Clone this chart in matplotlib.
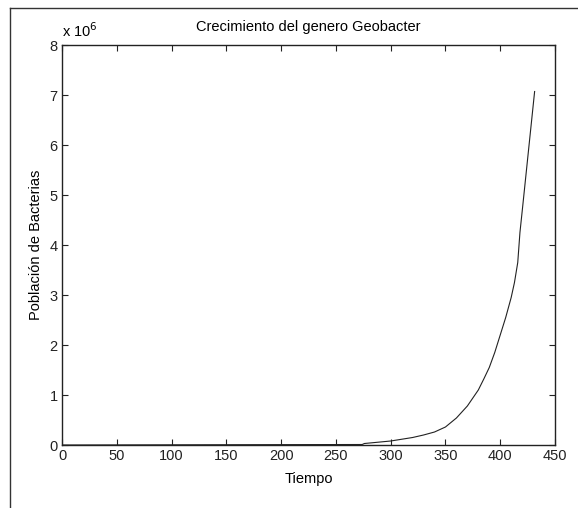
import matplotlib.pyplot as plt
from matplotlib.lines import Line2D
from matplotlib.ticker import FuncFormatter

plt.rcParams['font.family'] = ['Liberation Sans', 'DejaVu Sans']

# Datos
tiempo = [0, 130, 274, 276, 300, 320, 330, 340, 350, 360, 370, 380, 385, 390,
          395, 400, 405, 410, 413, 416, 418, 420.5, 425, 431.4]
poblacion = [0, 0.005e6, 0.01e6, 0.03e6, 0.08e6, 0.15e6, 0.2e6, 0.26e6,
             0.36e6, 0.54e6, 0.78e6, 1.1e6, 1.32e6, 1.55e6, 1.85e6, 2.2e6,
             2.55e6, 2.95e6, 3.25e6, 3.65e6, 4.25e6, 4.77e6, 5.72e6, 7.07e6]

fig = plt.figure(figsize=(5.78, 5.08), dpi=100)
ax = fig.add_axes([0.1073, 0.124, 0.8529, 0.7874])

ax.plot(tiempo, poblacion, color='#222222', linewidth=0.8)

ax.set_xlim(0, 450)
ax.set_ylim(0, 8e6)
ax.set_xticks(range(0, 451, 50))
ax.set_yticks([i * 1e6 for i in range(9)])
ax.yaxis.set_major_formatter(FuncFormatter(lambda v, p: '%g' % (v / 1e6)))

ax.tick_params(direction='in', top=True, right=True, length=4, width=0.8,
               labelsize=10.5, colors='#222222', pad=3)
for s in ax.spines.values():
    s.set_linewidth(1.0)
    s.set_color('#222222')

ax.set_title('Crecimiento del genero Geobacter', fontsize=10.5, pad=10)
ax.set_xlabel('Tiempo', fontsize=10.5, labelpad=6)
ax.set_ylabel('Población de Bacterias', fontsize=10.5, labelpad=5)
ax.text(0.0, 1.012, 'x 10$^{6}$', transform=ax.transAxes, fontsize=10.5,
        ha='left', va='bottom')

# marco exterior (recortado)
fig.add_artist(Line2D([10 / 578, 1], [1 - 8 / 508, 1 - 8 / 508],
                      transform=fig.transFigure, color='#333333', linewidth=1))
fig.add_artist(Line2D([10 / 578, 10 / 578], [0, 1 - 8 / 508],
                      transform=fig.transFigure, color='#333333', linewidth=1))

fig.savefig('out.png', dpi=100)
